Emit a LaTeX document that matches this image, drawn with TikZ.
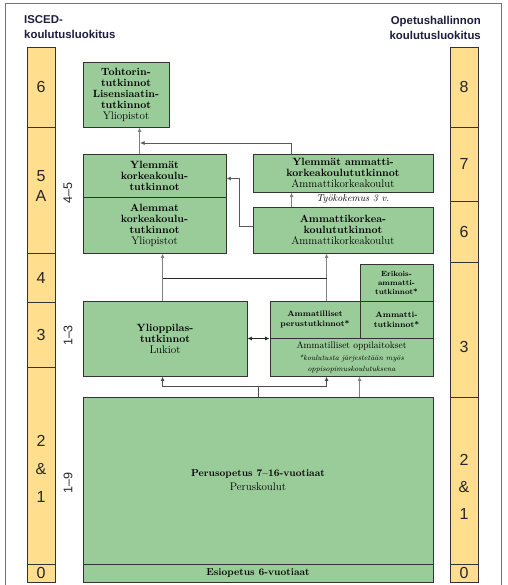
\documentclass[tikz,border=0pt]{standalone}
\usepackage{fontspec}
\usepackage{xcolor}
\usepackage{tikz}
\usetikzlibrary{arrows.meta,positioning}
\newfontfamily\lsans{Liberation Sans}
\definecolor{vihrea}{RGB}{154,204,153}
\definecolor{keltainen}{RGB}{255,223,142}
\definecolor{otsikkov}{RGB}{28,28,62}
\newcommand{\normaali}{\mdseries\fontsize{11}{11}\selectfont}
\newcommand{\huomio}{\mdseries\fontsize{7.5}{8}\selectfont\itshape}

\begin{document}
\begin{tikzpicture}[x=1pt,y=-1pt,>={Latex[length=4.5pt,width=4pt]},
  laatikko/.style={draw=black!80,fill=vihrea,line width=0.9pt,inner sep=0pt,align=center,font=\fontsize{10.5}{11}\selectfont\bfseries},
  taso/.style={draw=black!80,fill=keltainen,line width=0.9pt,inner sep=0pt,minimum width=28pt,font=\lsans\fontsize{16}{20}\selectfont,text=black!85},
  tasoteksti/.style={align=center,inner sep=0pt,font=\lsans\fontsize{16}{20}\selectfont,text=black!85},
  otsikko/.style={inner sep=0pt,font=\lsans\bfseries\fontsize{11.4}{15}\selectfont,text=otsikkov},
  vuosi/.style={rotate=90,inner sep=0pt,font=\lsans\fontsize{12.5}{14}\selectfont,text=black!85},
  nuoli/.style={->,draw=black!50,line width=0.9pt},
  yhteys/.style={draw=black!85,line width=0.9pt}]
\useasboundingbox (0,0) rectangle (507,585);
\draw[black!55,line width=0.9pt] (5,585) -- (5,3) -- (501,3) -- (501,585);
\node[otsikko,anchor=west,align=left] (isced) at (24,27.5) {ISCED-\\koulutusluokitus};
\node[otsikko,anchor=east,align=right] (oph) at (481,27.5) {Opetushallinnon\\koulutusluokitus};
% ISCED-tasot
\node[taso,minimum height=80pt] (i6) at (41,87) {6};
\node[taso,minimum height=126pt] (i5) at (41,190) {};
\node[taso,minimum height=49pt] (i4) at (41,277.5) {4};
\node[taso,minimum height=65pt] (i3) at (41,334.5) {3};
\node[taso,minimum height=197pt] (i21) at (41,465.5) {};
\node[taso,minimum height=18pt] (i0) at (41,573) {0};
\node[tasoteksti] (i5t) at (41,186) {5\\A};
\node[tasoteksti] (i21t) at (41,469) {2\\[8pt]\&\\[8pt]1};
% opetushallinnon tasot
\node[taso,minimum height=80pt] (o8) at (464,87) {8};
\node[taso,minimum height=74pt] (o7) at (464,164) {7};
\node[taso,minimum height=61pt] (o6) at (464,231.5) {6};
\node[taso,minimum height=135pt] (o3) at (464,329.5) {};
\node[taso,minimum height=167pt] (o21) at (464,480.5) {};
\node[taso,minimum height=18pt] (o0) at (464,573) {0};
\node[tasoteksti] (o3t) at (464,347) {3};
\node[tasoteksti] (o21t) at (464,487) {2\\[7pt]\&\\[7pt]1};
\node[vuosi] (v45) at (68,193) {4–5};
\node[vuosi] (v13) at (68,335.5) {1–3};
\node[vuosi] (v19) at (68,483) {1–9};
% tutkinnot
\node[laatikko,minimum width=86pt,minimum height=65pt] (tohtori) at (126,94.5) {Tohtorin-\\tutkinnot\\Lisensiaatin-\\tutkinnot\\\normaali Yliopistot};
\node[laatikko,minimum width=143pt,minimum height=43pt] (ylemmat) at (154.5,175.5) {Ylemmät\\korkeakoulu-\\tutkinnot};
\node[laatikko,minimum width=143pt,minimum height=56pt] (alemmat) at (154.5,225) {Alemmat\\korkeakoulu-\\tutkinnot\\\normaali Yliopistot};
\node[laatikko,minimum width=180pt,minimum height=38pt] (ylamk) at (343,173) {Ylemmät ammatti-\\korkeakoulututkinnot\\\normaali Ammattikorkeakoulut};
\node[laatikko,minimum width=180pt,minimum height=46pt] (amk) at (343,230) {Ammattikorkea-\\koulututkinnot\\\normaali Ammattikorkeakoulut};
\node[laatikko,minimum width=164pt,minimum height=75pt] (yo) at (165,338.5) {Ylioppilas-\\tutkinnot\\\normaali Lukiot};
\node[laatikko,minimum width=73pt,minimum height=37pt,font=\fontsize{7.5}{9}\selectfont\bfseries] (erikois) at (396.5,282.5) {Erikois-\\ammatti-\\tutkinnot*};
\node[laatikko,minimum width=90pt,minimum height=37pt,font=\fontsize{8}{10.5}\selectfont\bfseries] (perus) at (315,319.5) {Ammatilliset\\perustutkinnot*};
\node[laatikko,minimum width=73pt,minimum height=37pt,font=\fontsize{8}{10.5}\selectfont\bfseries] (ammatti) at (396.5,319.5) {Ammatti-\\tutkinnot*};
\node[laatikko,minimum width=163pt,minimum height=38pt,font=\mdseries\fontsize{9.5}{11}\selectfont] (oppil) at (351.5,357) {Ammatilliset oppilaitokset\\[1pt]\huomio *koulutusta järjestetään myös\\\huomio oppisopimuskoulutuksena};
\node[laatikko,minimum width=350pt,minimum height=167pt,font=\fontsize{10}{11}\selectfont\bfseries] (perusk) at (258,480.5) {Perusopetus 7–16-vuotiaat\\[3pt]\normaali Peruskoulut};
\node[laatikko,minimum width=350pt,minimum height=18pt,font=\fontsize{10}{11}\selectfont\bfseries] (esi) at (258,573) {Esiopetus 6-vuotiaat};
% yhteydet
\coordinate (liitos) at (140,143);
\draw[nuoli] ([xshift=57pt]ylemmat.north west) -- ([xshift=57pt]tohtori.south west);
\draw[nuoli,draw=black!65] ([xshift=39pt]ylamk.north west) |- (liitos);
\draw[nuoli] ([xshift=39pt]amk.north west) -- ([xshift=39pt]ylamk.south west)
  node[midway,right=21pt,font=\fontsize{10}{11}\selectfont\itshape] (tyo) {Työkokemus 3 v.};
\draw[nuoli,draw=black!65] ([yshift=4pt]amk.west) -- ++(-13,0) |- ([yshift=-3pt]ylemmat.east);
\draw[nuoli] ([xshift=80pt]yo.north west) -- ([xshift=80pt]alemmat.south west);
\draw[nuoli] ([xshift=57pt]perus.north west) -- ([xshift=74pt]amk.south west);
\draw[yhteys] ([xshift=80pt,yshift=22pt]yo.north west) -- ([xshift=57pt,yshift=22pt]perus.north west);
\draw[yhteys,<->] (yo.east) -- (yo.east -| perus.west);
\draw[nuoli,draw=black!70] (perusk.north) -- ++(0,-10.5) -| ([xshift=80pt]yo.south west);
\draw[nuoli,draw=black!70] (perusk.north) -- ++(0,-10.5) -| ([xshift=57pt]oppil.south west);
\draw[nuoli] ([xshift=277pt]perusk.north west) -- ([xshift=90pt]oppil.south west);
\end{tikzpicture}
\end{document}
